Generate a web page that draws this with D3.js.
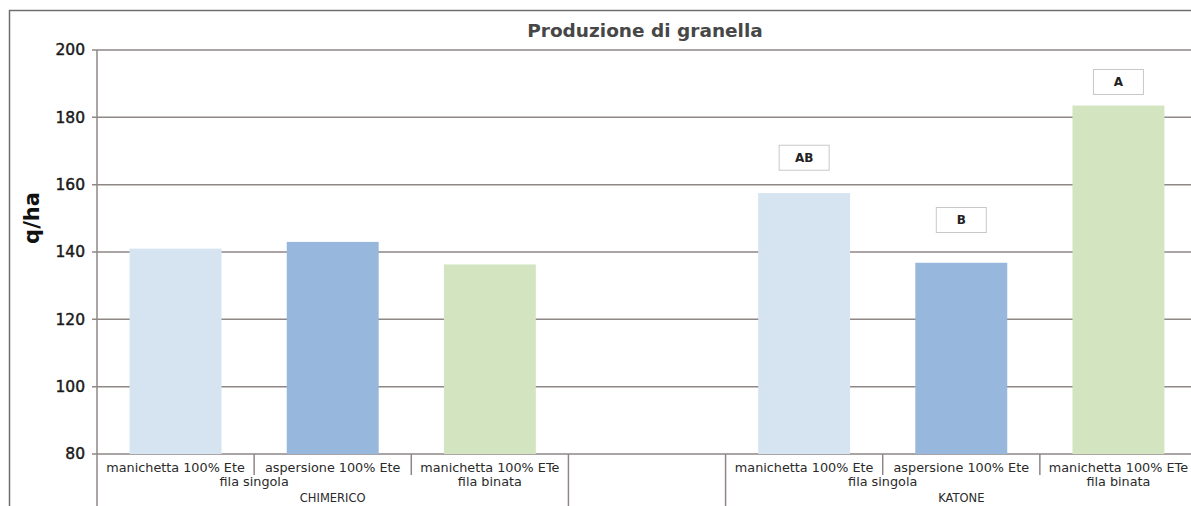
<!DOCTYPE html>
<html>
<head>
<meta charset="utf-8">
<script src="https://cdn.jsdelivr.net/npm/d3@7/dist/d3.min.js"></script>
<style>
  html, body { margin: 0; padding: 0; background: #fff; }
  svg { display: block; }
</style>
</head>
<body>
<svg id="chart" width="1191" height="506"></svg>
<script>
// ---- data ----
const title = "Produzione di granella";
const yLabel = "q/ha";
const yTicks = [80, 100, 120, 140, 160, 180, 200];
const groups = ["CHIMERICO", "", "KATONE"];
const treatments = ["manichetta 100% Ete", "aspersione 100% Ete", "manichetta 100% ETe"];
const layouts = ["fila singola", "fila singola", "fila binata"];
const chimericoValues = [141, 143, 136.3];
const katoneValues = [157.5, 136.8, 183.5];
const katoneLetters = ["AB", "B", "A"];
const katoneLetterAt = [168, 149.5, 190.5];
const barColors = ["#d6e4f1", "#97b8dc", "#d2e5c0"];

(function () {
// ---- build slots ----
const slots = [];
treatments.forEach((t, i) => slots.push({key: "C" + i, group: 0, treatment: t, layout: layouts[i], value: chimericoValues[i], letter: null, letterAt: null, colorIdx: i}));
slots.push({key: "gap", group: 1, treatment: "", layout: "", value: null});
treatments.forEach((t, i) => slots.push({key: "K" + i, group: 2, treatment: t, layout: layouts[i], value: katoneValues[i], letter: katoneLetters[i], letterAt: katoneLetterAt[i], colorIdx: i}));

const svg = d3.select("#chart");
const W = 1191, H = 506;
const pLeft = 97, pRight = 1197, pTop = 50, pBottom = 454;

const x = d3.scaleBand().domain(slots.map(d => d.key)).range([pLeft, pRight])
  .paddingInner(0.415).paddingOuter(0.2075);
const step = x.step();
const y = d3.scaleLinear().domain([80, 200]).range([pBottom, pTop]);

const gridColor = "#8f8686";

// outer border
svg.append("rect").attr("x", 9.5).attr("y", 10.5).attr("width", 1250).attr("height", 600)
  .attr("fill", "none").attr("stroke", "#6f6f6f").attr("stroke-width", 1.5);

// title
svg.append("text").attr("x", 645).attr("y", 37).attr("text-anchor", "middle")
  .attr("font-family", "'DejaVu Sans', sans-serif").attr("font-weight", "bold")
  .attr("font-size", 18.5).attr("fill", "#474747").text(title);

// gridlines
svg.append("g").selectAll("line").data(yTicks).join("line")
  .attr("x1", pLeft - 5).attr("x2", W).attr("y1", d => y(d)).attr("y2", d => y(d))
  .attr("stroke", gridColor).attr("stroke-width", 1.5);

// y axis
const yAxis = d3.axisLeft(y).tickValues(yTicks).tickSize(0).tickPadding(12);
const gy = svg.append("g").attr("transform", `translate(${pLeft},0)`).call(yAxis);
gy.select(".domain").remove();
gy.selectAll("text").attr("font-family", "'DejaVu Sans', sans-serif")
  .attr("font-size", 15.5).attr("fill", "#1a1a1a")
  .attr("stroke", "#1a1a1a").attr("stroke-width", 0.45);

// y axis title
svg.append("text").attr("transform", "translate(39,218) rotate(-90)").attr("text-anchor", "middle")
  .attr("font-family", "'DejaVu Sans', sans-serif").attr("font-weight", "bold")
  .attr("font-size", 21).attr("fill", "#111").text(yLabel);

// bars
svg.append("g").selectAll("rect").data(slots.filter(d => d.value != null)).join("rect")
  .attr("x", d => x(d.key)).attr("width", x.bandwidth())
  .attr("y", d => y(d.value)).attr("height", d => y(80) - y(d.value))
  .attr("fill", d => barColors[d.colorIdx]);

// vertical axis line
svg.append("line").attr("x1", pLeft).attr("x2", pLeft).attr("y1", pTop).attr("y2", H)
  .attr("stroke", gridColor).attr("stroke-width", 1.5);

// category separators
const sepG = svg.append("g");
slots.forEach((d, i) => {
  if (i === 0) return;
  const bx = pLeft + i * step;
  const prev = slots[i - 1];
  let y2 = 475;
  if (prev.group !== d.group) y2 = H;
  sepG.append("line").attr("x1", bx).attr("x2", bx).attr("y1", pBottom).attr("y2", y2)
    .attr("stroke", gridColor).attr("stroke-width", 1.5);
});

const labFont = "'DejaVu Sans', sans-serif";
const labSize = 12.8;
const labColor = "#2a2a2a";
// level 1 labels
svg.append("g").selectAll("text").data(slots.filter(d => d.treatment)).join("text")
  .attr("x", d => x(d.key) + x.bandwidth() / 2).attr("y", 472)
  .attr("text-anchor", "middle").attr("font-family", labFont).attr("font-size", labSize)
  .attr("fill", labColor).text(d => d.treatment);

// level 2 labels (spanning)
const lvl2 = [];
slots.forEach((d, i) => {
  if (!d.layout) return;
  const last = lvl2[lvl2.length - 1];
  if (last && last.layout === d.layout && last.group === d.group) last.end = i;
  else lvl2.push({layout: d.layout, group: d.group, start: i, end: i});
});
svg.append("g").selectAll("text").data(lvl2).join("text")
  .attr("x", d => pLeft + (d.start + d.end + 1) / 2 * step).attr("y", 486)
  .attr("text-anchor", "middle").attr("font-family", labFont).attr("font-size", labSize)
  .attr("fill", labColor).text(d => d.layout);

// level 3 labels
const lvl3 = groups.map((g, gi) => {
  const idx = slots.map((d, i) => d.group === gi ? i : -1).filter(i => i >= 0);
  return {name: g, start: d3.min(idx), end: d3.max(idx)};
}).filter(d => d.name);
svg.append("g").selectAll("text").data(lvl3).join("text")
  .attr("x", d => pLeft + (d.start + d.end + 1) / 2 * step).attr("y", 502)
  .attr("text-anchor", "middle").attr("font-family", labFont).attr("font-size", 11.5)
  .attr("fill", labColor).text(d => d.name);

// letter boxes
const lg = svg.append("g").selectAll("g").data(slots.filter(d => d.letter)).join("g")
  .attr("transform", d => `translate(${x(d.key) + x.bandwidth() / 2},${y(d.letterAt)})`);
lg.append("rect").attr("x", -25).attr("y", -12.5)
  .attr("width", 50).attr("height", 25).attr("fill", "#fff")
  .attr("stroke", "#c8c8c8").attr("stroke-width", 1);
lg.append("text").attr("text-anchor", "middle").attr("dy", "0.35em")
  .attr("font-family", labFont).attr("font-weight", "bold").attr("font-size", 12)
  .attr("fill", "#222").text(d => d.letter);
})();
</script>
</body>
</html>
